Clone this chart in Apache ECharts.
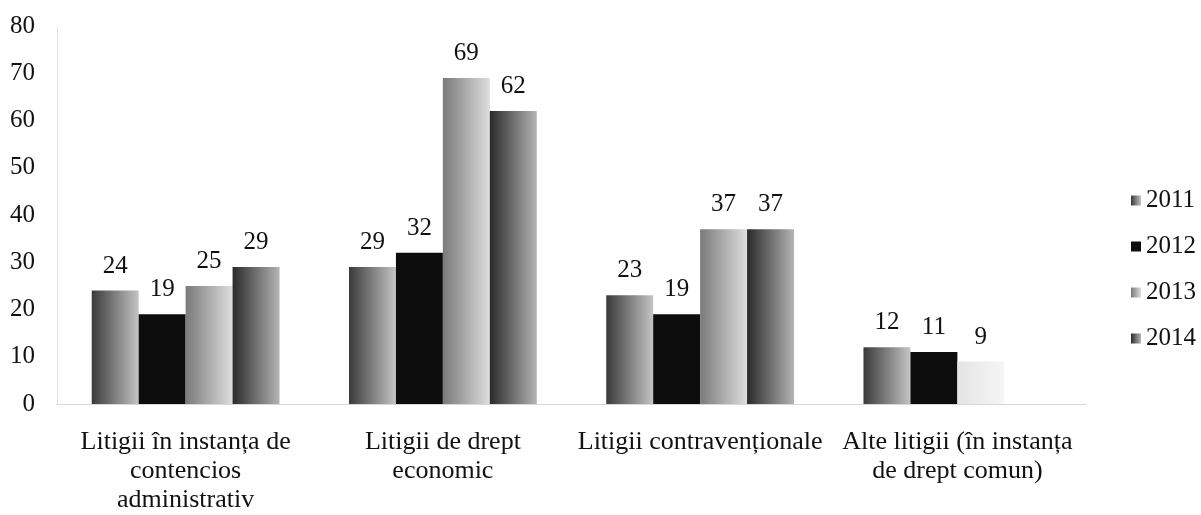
<!DOCTYPE html>
<html>
<head>
<meta charset="utf-8">
<script src="https://cdn.jsdelivr.net/npm/echarts@6/dist/echarts.min.js"></script>
<style>
  html, body { margin: 0; padding: 0; background: #fff; }
  #chart { width: 1201px; height: 515px; }
</style>
</head>
<body>
<div id="chart"></div>
<script>
const categories = [
  'Litigii în instanța de\ncontencios\nadministrativ',
  'Litigii de drept\neconomic',
  'Litigii contravenționale',
  'Alte litigii (în instanța\nde drept comun)'
];
const years = ['2011', '2012', '2013', '2014'];
const s2011 = [24, 29, 23, 12];
const s2012 = [19, 32, 19, 11];
const s2013 = [25, 69, 37, 9];
const s2014 = [29, 62, 37, null];

const font = 'Liberation Serif, Times New Roman, serif';

// scan-like horizontal shading: darker on the left edge
function shade(from, to) {
  return new echarts.graphic.LinearGradient(0, 0, 1, 0, [
    { offset: 0, color: from },
    { offset: 1, color: to }
  ]);
}

const colors = [
  shade('#3a3a3a', '#c4c4c4'),
  '#0d0d0d',
  shade('#7a7a7a', '#dedede'),
  shade('#2a2a2a', '#b4b4b4')
];

const chart = echarts.init(document.getElementById('chart'));

function makeSeries(name, values, idx) {
  return {
    name: name,
    type: 'bar',
    barGap: '0%',
    barCategoryGap: '27%',
    itemStyle: { color: colors[idx] },
    // last 2013 bar is almost washed out in the scan
    data: values.map((v, i) => (idx === 2 && i === 3)
      ? { value: v, itemStyle: { color: shade('#e4e4e4', '#f6f6f6') } }
      : v),
    label: {
      show: true,
      position: 'top',
      distance: 12,
      fontFamily: font,
      fontSize: 25,
      color: '#111'
    }
  };
}

chart.setOption({
  backgroundColor: '#fff',
  animation: false,
  grid: { left: 57, right: 115, top: 26, bottom: 109, containLabel: false },
  legend: {
    orient: 'vertical',
    left: 1126,
    top: 183,
    icon: 'rect',
    itemWidth: 10,
    itemHeight: 10,
    itemGap: 21,
    data: years,
    textStyle: { fontFamily: font, fontSize: 25, lineHeight: 24, color: '#111' }
  },
  xAxis: {
    type: 'category',
    data: categories,
    axisLine: { show: true, lineStyle: { color: '#d0d0d0', type: 'dotted' } },
    axisTick: { show: false },
    axisLabel: {
      interval: 0,
      margin: 24,
      fontFamily: font,
      fontSize: 26,
      lineHeight: 29,
      color: '#111',
      align: 'center'
    }
  },
  yAxis: {
    type: 'value',
    min: 0,
    max: 80,
    interval: 10,
    axisLine: { show: true, lineStyle: { color: '#d8d8d8', type: 'dotted' } },
    axisTick: { show: false },
    splitLine: { show: false },
    axisLabel: {
      margin: 22,
      fontFamily: font,
      fontSize: 25,
      color: '#111'
    }
  },
  series: [
    makeSeries('2011', s2011, 0),
    makeSeries('2012', s2012, 1),
    makeSeries('2013', s2013, 2),
    makeSeries('2014', s2014, 3)
  ]
});
</script>
</body>
</html>
